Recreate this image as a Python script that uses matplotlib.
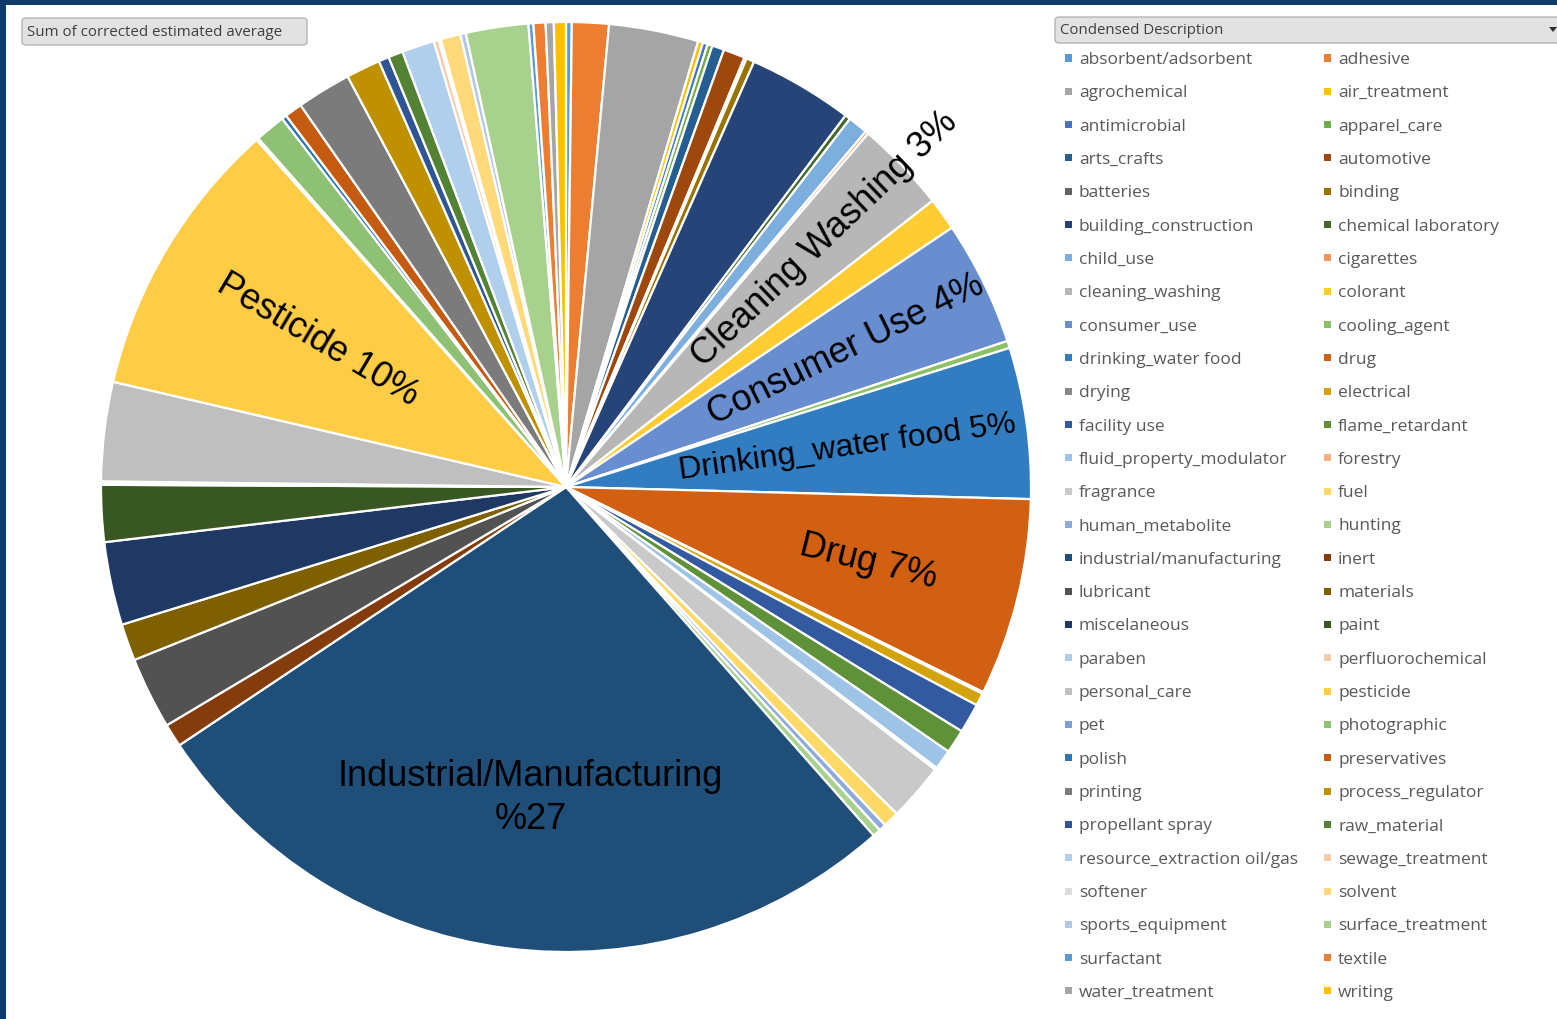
"""Pie of summed corrected estimated average by condensed use description."""

import matplotlib
matplotlib.use("Agg")
import matplotlib.pyplot as plt
from matplotlib.patches import Rectangle, FancyBboxPatch, Polygon
import numpy as np

W, H = 1557, 1019

categories = [
    "absorbent/adsorbent", "adhesive", "agrochemical", "air_treatment",
    "antimicrobial", "apparel_care", "arts_crafts", "automotive",
    "batteries", "binding", "building_construction", "chemical laboratory",
    "child_use", "cigarettes", "cleaning_washing", "colorant",
    "consumer_use", "cooling_agent", "drinking_water food", "drug",
    "drying", "electrical", "facility use", "flame_retardant",
    "fluid_property_modulator", "forestry", "fragrance", "fuel",
    "human_metabolite", "hunting", "industrial/manufacturing", "inert",
    "lubricant", "materials", "miscelaneous", "paint",
    "paraben", "perfluorochemical", "personal_care", "pesticide",
    "pet", "photographic", "polish", "preservatives",
    "printing", "process_regulator", "propellant spray", "raw_material",
    "resource_extraction oil/gas", "sewage_treatment", "softener", "solvent",
    "sports_equipment", "surface_treatment", "surfactant", "textile",
    "water_treatment", "writing",
]

# share of the summed corrected estimated average, in percent
share = [
    0.20, 1.28, 3.11, 0.17,
    0.17, 0.17, 0.42, 0.75,
    0.08, 0.28, 3.64, 0.19,
    0.69, 0.11, 3.19, 1.14,
    4.33, 0.25, 5.25, 6.86,
    0.06, 0.44, 1.03, 0.83,
    0.69, 0.08, 2.00, 0.56,
    0.25, 0.28, 27.14, 0.81,
    2.50, 1.28, 2.89, 1.97,
    0.06, 0.06, 3.44, 9.78,
    0.08, 1.06, 0.17, 0.61,
    1.89, 1.19, 0.36, 0.51,
    1.13, 0.17, 0.08, 0.69,
    0.19, 2.17, 0.17, 0.42,
    0.28, 0.42,
]

colors = [
    "#5B9BD5", "#ED7D31", "#A5A5A5", "#FFC000",
    "#4472C4", "#70AD47", "#255E91", "#9E480E",
    "#636363", "#997300", "#264478", "#43682B",
    "#7CAFDD", "#F1975A", "#B7B7B7", "#FFCD33",
    "#698ED0", "#8CC168", "#327DC2", "#D26012",
    "#878787", "#D4A20C", "#335AA1", "#5F9138",
    "#9DC3E6", "#F4B183", "#C9C9C9", "#FFD966",
    "#8FAADC", "#A9D18E", "#1F4E79", "#843C0C",
    "#525252", "#7F6000", "#203864", "#385723",
    "#ADCDEA", "#F8CBAD", "#BFBFBF", "#FFCD45",
    "#7F9FD6", "#8FC175", "#2E75B6", "#C55A11",
    "#7B7B7B", "#BF9000", "#2F5597", "#548235",
    "#AFCFEC", "#F8CBAD", "#DBDBDB", "#FFD97A",
    "#B4C7E7", "#A9D18E", "#5B9BD5", "#ED7D31",
    "#A5A5A5", "#FFC000",
]

# slice names written on the pie: (name, radius fraction, font size)
callouts = {
    "cleaning_washing": ("Cleaning Washing", 0.77, 26),
    "consumer_use": ("Consumer Use", 0.67, 26),
    "drinking_water food": ("Drinking_water food", 0.61, 23),
    "drug": ("Drug", 0.67, 26),
    "pesticide": ("Pesticide", 0.62, 26),
}


def fx(x):
    return x / W


def fy(y):
    return 1 - y / H


fig = plt.figure(figsize=(W / 100, H / 100), dpi=100)
fig.patch.set_facecolor("white")

# dark frame along the left and top edges
fig.patches.append(Rectangle((0, 0), fx(6), 1, transform=fig.transFigure,
                             facecolor="#0E3C6A", edgecolor="none", zorder=5))
fig.patches.append(Rectangle((0, fy(5)), 1, 5 / H, transform=fig.transFigure,
                             facecolor="#0E3C6A", edgecolor="none", zorder=5))

# ── pie ───────────────────────────────────────────────────────────────────────
cx, cy, r = 566, 487, 465
ax = fig.add_axes([fx(cx - r), fy(cy + r), 2 * r / W, 2 * r / H])
wedges, _ = ax.pie(share, colors=colors, startangle=90, counterclock=False,
                   radius=1, wedgeprops=dict(edgecolor="white", linewidth=1.6))
ax.set_xlim(-1, 1)
ax.set_ylim(-1, 1)
ax.axis("off")

vals = np.array(share)
pct = vals / vals.sum() * 100
cum = np.concatenate([[0], np.cumsum(pct)])
for name, (text, rf, size) in callouts.items():
    i = categories.index(name)
    mid = 90 - 3.6 * (cum[i] + pct[i] / 2)
    a = np.deg2rad(mid)
    rot = mid if np.cos(a) >= 0 else mid - 180
    ax.text(rf * np.cos(a), rf * np.sin(a), f"{text} {pct[i]:.0f}%",
            rotation=rot, rotation_mode="anchor", ha="center", va="center",
            fontsize=size, family="Liberation Sans", color="black")

i = categories.index("industrial/manufacturing")
mid = np.deg2rad(90 - 3.6 * (cum[i] + pct[i] / 2))
ax.text(0.67 * np.cos(mid) + 0.01, 0.67 * np.sin(mid) - 0.004,
        f"Industrial/Manufacturing\n%{pct[i]:.0f}",
        ha="center", va="center", fontsize=26, family="Liberation Sans",
        linespacing=1.3, color="black")

# ── field buttons ─────────────────────────────────────────────────────────────
def button(x0, y0, x1, y1, label, size):
    box = FancyBboxPatch((fx(x0), fy(y1)), fx(x1 - x0), (y1 - y0) / H,
                         boxstyle="round,pad=0,rounding_size=0.003",
                         transform=fig.transFigure, facecolor="#E2E2E2",
                         edgecolor="#B5B5B5", linewidth=1, zorder=3)
    fig.patches.append(box)
    fig.text(fx(x0 + 5), fy((y0 + y1) / 2 + 1), label, ha="left", va="center",
             fontsize=size, family="Open Sans", color="#3F3F3F", zorder=4)


button(22, 18, 307, 45, "Sum of corrected estimated average", 10.9)
button(1055, 17, 1570, 43, "Condensed Description", 10.8)
fig.patches.append(Polygon([[fx(1549), fy(27)], [fx(1557), fy(27)],
                            [fx(1553), fy(32)]], closed=True,
                           transform=fig.transFigure, facecolor="#333333",
                           edgecolor="none", zorder=4))

# ── legend, two columns, row-major ────────────────────────────────────────────
row0, row_h = 60, 33.32
col_x = [1065, 1324]
for k, (name, col) in enumerate(zip(categories, colors)):
    row, c = divmod(k, 2)
    y = row0 + row * row_h
    x = col_x[c]
    fig.patches.append(Rectangle((fx(x), fy(y + 1.5)), 7 / W, 7 / H,
                                 transform=fig.transFigure, facecolor=col,
                                 edgecolor="none", zorder=3))
    fig.text(fx(x + 14), fy(y), name, ha="left", va="center",
             fontsize=12.5, family="Open Sans", color="#595959")

fig.savefig("out.png", dpi=100)
